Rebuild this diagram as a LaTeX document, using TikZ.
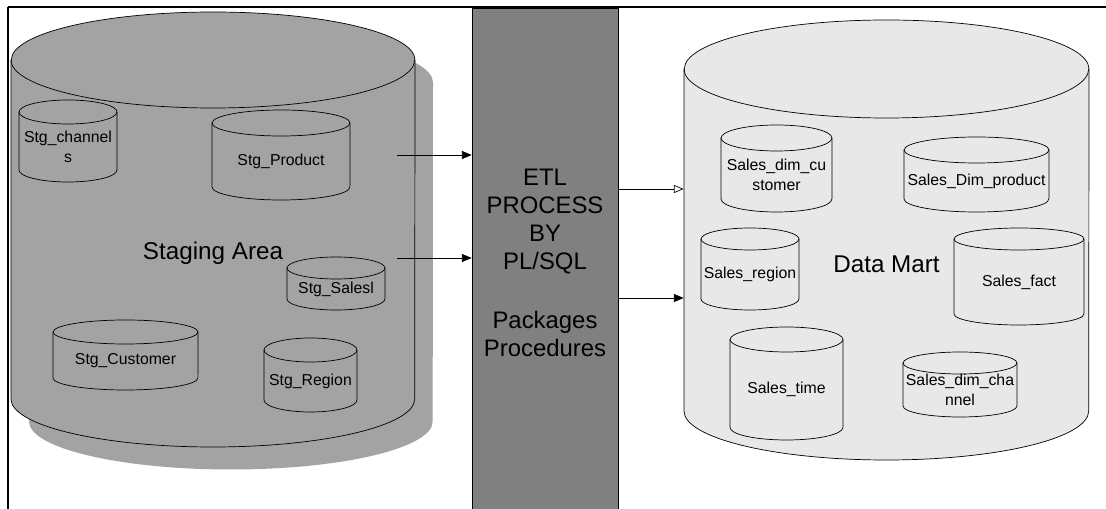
\documentclass[tikz,border=0pt]{standalone}
\usepackage{fontspec}
\setmainfont{Liberation Sans}
\usetikzlibrary{arrows.meta}

\definecolor{stgfill}{gray}{0.64}
\definecolor{etlfill}{gray}{0.50}
\definecolor{martfill}{gray}{0.91}

\tikzset{
  dbtext/.style={inner sep=0pt,align=center,font=\fontsize{9pt}{11pt}\selectfont},
  biglabel/.style={font=\fontsize{13.8pt}{16pt}\selectfont},
}

% cylindre : nom, x, y, largeur, hauteur, rayon du haut, style, texte
\newcommand{\dbcyl}[8]{%
  \path[#7] (#2-#4/2,#3-#5/2+#6) -- (#2-#4/2,#3+#5/2-#6)
    arc[start angle=180,end angle=360,x radius=#4*0.01cm,y radius=#6*0.02cm]
    -- (#2+#4/2,#3-#5/2+#6)
    arc[start angle=0,end angle=180,x radius=#4*0.01cm,y radius=#6*0.02cm] -- cycle;
  \path[#7,fill=none] (#2-#4/2,#3-#5/2+#6)
    arc[start angle=180,end angle=360,x radius=#4*0.01cm,y radius=#6*0.02cm];
  \node[dbtext,minimum width=#4*0.02cm,minimum height=(#5-#6)*0.02cm] (#1)
    at (#2,#3+#6/2) {#8};
}

\begin{document}
\begin{tikzpicture}[x=0.02cm,y=-0.02cm,>={Triangle[length=5.5pt,width=4.5pt]}]
  \clip (0,0) rectangle (1106,509);

  % Cadre
  \draw[line width=1.3pt] (1106,7) -- (8,7);
  \draw[line width=0.8pt] (8,7) -- (8,509);

  % Zone de staging : ombre puis cylindre
  \dbcyl{stgshadow}{231}{252}{404}{435}{48}{fill=stgfill}{}
  \dbcyl{stg}{213}{229.5}{404}{435}{48}{draw,fill=stgfill}{\fontsize{13.8pt}{16pt}\selectfont Staging Area}
  \dbcyl{stgchan}{68}{141}{98}{82}{12}{draw,fill=stgfill}{Stg\_channel\\s}
  \dbcyl{stgprod}{281}{155}{138}{90}{13}{draw,fill=stgfill}{Stg\_Product}
  \dbcyl{stgsales}{336}{283.5}{98}{53}{11}{draw,fill=stgfill}{Stg\_Salesl}
  \dbcyl{stgcust}{125.5}{355}{145}{70}{12}{draw,fill=stgfill}{Stg\_Customer}
  \dbcyl{stgreg}{310.5}{375}{93}{74}{12}{draw,fill=stgfill}{Stg\_Region}

  % Processus ETL
  \node[draw,thin,fill=etlfill,minimum width=146*0.02cm,minimum height=510*0.02cm,
    align=center,font=\fontsize{13.6pt}{15.9pt}\selectfont] (etl) at (545,263)
    {ETL\\PROCESS\\BY\\PL/SQL\\[18pt]Packages\\Procedures};

  % Data mart
  \dbcyl{mart}{886.5}{240}{405}{440}{49}{draw,fill=martfill}{\fontsize{13.8pt}{16pt}\selectfont Data Mart}
  \dbcyl{dcust}{776.5}{168.5}{111}{87}{13}{draw,fill=martfill}{Sales\_dim\_cu\\stomer}
  \dbcyl{dprod}{976.5}{174.5}{145}{75}{13}{draw,fill=martfill}{Sales\_Dim\_product}
  \dbcyl{dreg}{750}{269}{98}{82}{11}{draw,fill=martfill}{Sales\_region}
  \dbcyl{dfact}{1019}{276.5}{130}{97}{11}{draw,fill=martfill}{Sales\_fact}
  \dbcyl{dtime}{786.5}{383.5}{113}{113}{12.5}{draw,fill=martfill}{Sales\_time}
  \dbcyl{dchan}{960}{384.5}{114}{65}{11}{draw,fill=martfill}{Sales\_dim\_cha\\nnel}

  % Fleches
  \coordinate (s1) at (397,155);
  \coordinate (s2) at (397,258);
  \coordinate (m1) at (617,189);
  \coordinate (m2) at (617,298);
  \draw[->] (s1) -- (etl.west |- s1);
  \draw[->] (s2) -- (etl.west |- s2);
  \draw[-{Triangle[open,length=5.5pt,width=4.5pt]}] (etl.east |- m1) -- (mart.west |- m1);
  \draw[->] (etl.east |- m2) -- (mart.west |- m2);
\end{tikzpicture}
\end{document}
